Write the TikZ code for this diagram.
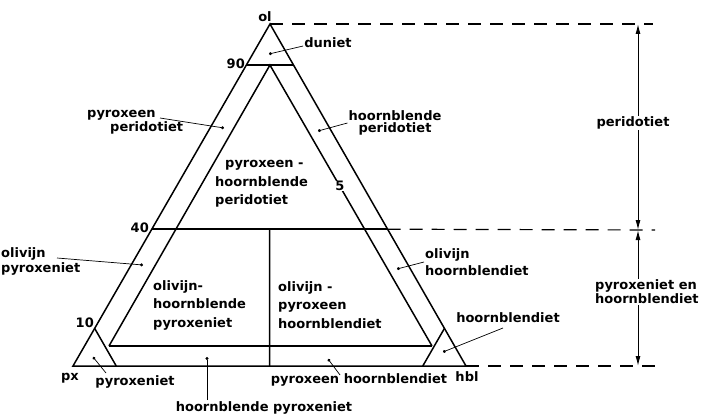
\documentclass[tikz,border=0pt]{standalone}
\usepackage{fontspec}
\setmainfont{DejaVu Sans}
\usepackage{tikz}
\usetikzlibrary{arrows.meta, positioning, calc}

\begin{document}
\begin{tikzpicture}[
    x=1pt, y=-1pt,
    edge/.style={line width=1.5pt, line join=miter},
    leader/.style={line width=0.7pt, -{Circle[length=3pt]}},
    dashline/.style={line width=1.2pt, dash pattern=on 13pt off 9pt},
    dimline/.style={line width=1pt, {Latex[length=10pt,width=5pt]}-{Latex[length=10pt,width=5pt]}},
    lbl/.style={inner sep=1pt, font=\bfseries\fontsize{13}{11.5}\selectfont},
    field/.style={inner sep=1pt, align=left, font=\bfseries\fontsize{13}{18.5}\selectfont}
]
\useasboundingbox (0,0) rectangle (707,417);

% corners of the triangle
\coordinate (P) at (73,366);
\coordinate (H) at (466,366);
\coordinate (O) at (270,24);
\draw[edge] (P) -- (H) -- (O) -- cycle;

% olivine lines
\coordinate (a90) at ($(P)!0.88!(O)$);
\coordinate (b90) at ($(H)!0.88!(O)$);
\coordinate (a40) at ($(P)!0.40!(O)$);
\coordinate (b40) at ($(H)!0.40!(O)$);
\draw[edge] (a90) -- (b90);
\draw[edge] (a40) -- (b40);

% inner 5% triangle
\coordinate (iO) at ($(a90)!0.5!(b90)$);
\coordinate (iP) at (109,346);
\coordinate (iH) at (432,346);
\draw[edge] (iP) -- (iO) -- (iH);
\draw[edge] (iP) -- (iH);
\draw[edge] ($(a40)!0.5!(b40)$) -- ($(P)!0.5!(H)$);

% 10% corners
\coordinate (a10) at ($(P)!0.11!(O)$);
\coordinate (b10) at ($(P)!0.11!(H)$);
\coordinate (c10) at ($(H)!0.11!(O)$);
\coordinate (d10) at ($(H)!0.11!(P)$);
\draw[edge] (a10) -- (b10);
\draw[edge] (c10) -- (d10);

% dashed guides and dimension arrows
\coordinate (tTop) at (653,24);
\coordinate (tMid) at (655,230);
\coordinate (tBot) at (660,366);
\draw[dashline] (O) -- (tTop);
\draw[dashline] (b40) -- (tMid);
\draw[dashline] (H) -- (tBot);
\coordinate (mTop) at (638,24);
\coordinate (mMid) at (638,230);
\coordinate (mBot) at (638,366);
\draw[dimline] (mTop) -- (mMid);
\draw[dimline] (mMid) -- (mBot);
\node[lbl, fill=white] (rPer) at (633,123) {peridotiet};
\node[lbl, fill=white, align=left, anchor=west, font=\bfseries\fontsize{13}{14}\selectfont] (rPyx) at (594,292) {pyroxeniet en\\hoornblendiet};

% corner and tick labels
\node[lbl] (ol) at (265,17) {ol};
\node[lbl] (px) at (70,378) {px};
\node[lbl] (hbl) at (467,377) {hbl};
\node[lbl, anchor=east] (t90) at (246,64) {90};
\node[lbl, anchor=east] (t40) at (150,228) {40};
\node[lbl, anchor=east] (t10) at (95,323) {10};
\node[lbl, fill=white, inner sep=0.5pt] (t5) at (340,186) {5};

% field names
\node[field, anchor=west] (fPhp) at (214,184) {\hspace*{10pt}pyroxeen -\\hoornblende\\peridotiet};
\node[field, anchor=west] (fOhp) at (152,305) {olivijn-\\hoornblende\\pyroxeniet};
\node[field, anchor=west] (fOph) at (277,305) {olivijn -\\pyroxeen\\hoornblendiet};

% outer names with leaders
\node[lbl] (nDun) at (328,43) {duniet};
\coordinate (dDun) at (269,54);
\draw[leader] (nDun.west) ++(0,3) -- (dDun);

\node[lbl, align=left, anchor=west] (nPp) at (86,122) {pyroxeen\\\hspace*{23pt}peridotiet};
\coordinate (dPp) at (224,128);
\draw[leader] (160,118) -- (dPp);

\node[lbl, align=center] (nHp) at (395,123) {hoornblende\\peridotiet};
\coordinate (dHp) at (318,131);
\draw[leader] (nHp.west) -- (dHp);

\node[lbl, align=left, anchor=west, font=\bfseries\fontsize{13}{15}\selectfont] (nOp) at (0,261) {olivijn\\pyroxeniet};
\coordinate (dOp) at (143,265);
\draw[leader] (57,258) -- (dOp);

\node[lbl, align=left, anchor=west, font=\bfseries\fontsize{13}{17}\selectfont] (nOh) at (424,262) {olivijn\\hoornblendiet};
\coordinate (dOh) at (397,269);
\draw[leader] (nOh.west) -- (dOh);

\node[lbl] (nPx) at (135,382) {pyroxeniet};
\coordinate (dPx) at (93,357);
\draw[leader] (106,373) -- (dPx);

\node[lbl] (nHpx) at (264,408) {hoornblende pyroxeniet};
\coordinate (dHpx) at (207,357);
\draw[leader] (207,400) -- (dHpx);

\node[lbl] (nPh) at (359,380) {pyroxeen hoornblendiet};
\coordinate (dPh) at (328,359);
\draw[leader] (340,375) -- (dPh);

\node[lbl] (nHbl) at (508,318) {hoornblendiet};
\coordinate (dHbl) at (443,352);
\draw[leader] (503,328) -- (dHbl);
\end{tikzpicture}
\end{document}
